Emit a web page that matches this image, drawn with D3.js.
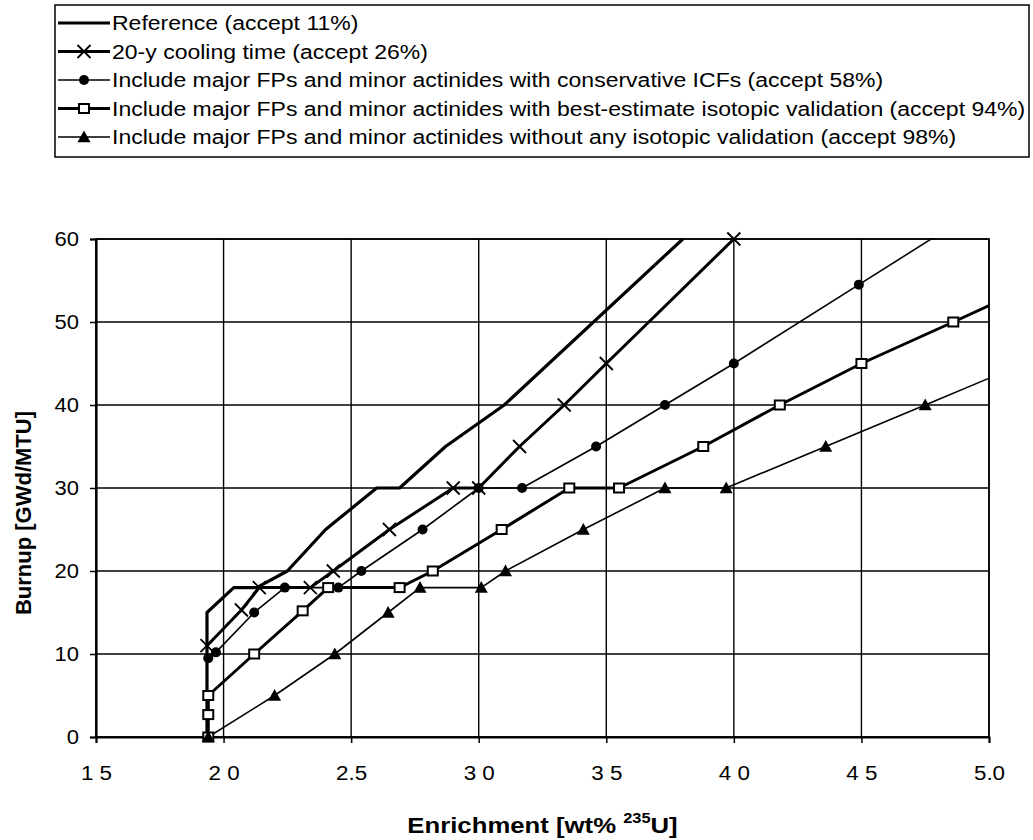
<!DOCTYPE html>
<html><head><meta charset="utf-8">
<script src="https://cdn.jsdelivr.net/npm/d3@7"></script>
<style>
body{margin:0;background:#fff}
svg{display:block}
text{font-family:"Liberation Sans",Arial,Helvetica,sans-serif;fill:#000}
</style>
</head><body>
<svg id="chart" width="1033" height="840"></svg>
<script>
// ---- data ----
const xTicks = [1.5, 2.0, 2.5, 3.0, 3.5, 4.0, 4.5, 5.0];
const xTickLabels = ["1 5", "2 0", "2.5", "3 0", "3 5", "4 0", "4 5", "5.0"];
const yTicks = [0, 10, 20, 30, 40, 50, 60];

const seriesNames = [
  "Reference (accept 11%)",
  "20-y cooling time (accept 26%)",
  "Include major FPs and minor actinides with conservative ICFs (accept 58%)",
  "Include major FPs and minor actinides with best-estimate isotopic validation (accept 94%)",
  "Include major FPs and minor actinides without any isotopic validation (accept 98%)"
];

const referenceX = [1.935, 1.935, 2.04, 2.13, 2.25, 2.40, 2.60, 2.69, 2.87, 3.10, 3.80];
const referenceY = [0, 15, 18, 18, 20, 25, 30, 30, 35, 40, 60];

const coolingX = [1.935, 2.07, 2.14, 2.34, 2.43, 2.65, 2.90, 3.00, 3.16, 3.335, 3.50, 4.00];
const coolingY = [11, 15.3, 18, 18, 20, 25, 30, 30, 35, 40, 45, 60];

const icfX = [1.94, 1.97, 2.12, 2.24, 2.45, 2.54, 2.78, 3.00, 3.17, 3.46, 3.73, 4.00, 4.49, 5.00];
const icfY = [9.5, 10.2, 15, 18, 18, 20, 25, 30, 30, 35, 40, 45, 54.5, 64.4];

const bestX = [1.94, 1.94, 1.94, 2.12, 2.31, 2.41, 2.69, 2.82, 3.09, 3.355, 3.55, 3.88, 4.18, 4.50, 4.86, 5.20];
const bestY = [0, 2.7, 5, 10, 15.2, 18, 18, 20, 25, 30, 30, 35, 40, 45, 50, 54.8];

const noValX = [1.94, 2.20, 2.436, 2.645, 2.77, 3.01, 3.105, 3.41, 3.73, 3.97, 4.36, 4.75, 5.20];
const noValY = [0, 5, 10, 15, 18, 18, 20, 25, 30, 30, 35, 40, 45.8];

const seriesX = [referenceX, coolingX, icfX, bestX, noValX];
const seriesY = [referenceY, coolingY, icfY, bestY, noValY];
const seriesMarker = ["none", "x", "circle", "square", "triangle"];
const seriesWidth = [3.2, 3, 1.6, 3, 1.6];

// ---- layout ----
const svg = d3.select("#chart");
const L = 96, R = 989, T = 239, B = 737;
const x = d3.scaleLinear().domain([1.5, 5.0]).range([L, R]);
const y = d3.scaleLinear().domain([0, 60]).range([B, T]);

function stretch(sel, f) {
  sel.each(function () {
    const w = this.getComputedTextLength();
    d3.select(this).attr("textLength", w * f).attr("lengthAdjust", "spacingAndGlyphs");
  });
}

svg.append("rect").attr("width", 1033).attr("height", 840).attr("fill", "#fff");

svg.append("clipPath").attr("id", "clip")
  .append("rect").attr("x", L).attr("y", T - 1).attr("width", R - L).attr("height", B - T + 1);

// grid
const grid = svg.append("g");
grid.selectAll("line.v").data(xTicks).join("line")
  .attr("x1", d => x(d)).attr("x2", d => x(d)).attr("y1", T).attr("y2", B)
  .attr("stroke", "#000").attr("stroke-width", 1.4);
grid.selectAll("line.h").data(yTicks).join("line")
  .attr("y1", d => y(d)).attr("y2", d => y(d)).attr("x1", L).attr("x2", R)
  .attr("stroke", "#000").attr("stroke-width", 1.4);

// axes
const xAxis = d3.axisBottom(x).tickValues(xTicks).tickSize(6).tickFormat((d, i) => xTickLabels[i]);
const gx = svg.append("g").attr("transform", `translate(0,${B})`).call(xAxis);
gx.select(".domain").attr("stroke-width", 2);
gx.selectAll(".tick line").attr("stroke-width", 1.5);
gx.selectAll(".tick text").attr("font-size", 20).attr("dy", 0).attr("y", 43)
  .attr("font-family", "Liberation Sans, Arial, sans-serif").call(stretch, 1.12);

const yAxis = d3.axisLeft(y).tickValues(yTicks).tickSize(6);
const gy = svg.append("g").attr("transform", `translate(${L},0)`).call(yAxis);
gy.select(".domain").attr("stroke-width", 2.2);
gy.selectAll(".tick line").attr("stroke-width", 1.5);
gy.selectAll(".tick text").attr("font-size", 20).attr("x", -17)
  .attr("font-family", "Liberation Sans, Arial, sans-serif").call(stretch, 1.1);

// frame
svg.append("rect").attr("x", L).attr("y", T).attr("width", R - L).attr("height", B - T)
  .attr("fill", "none").attr("stroke", "#000").attr("stroke-width", 1.6);

// titles
svg.append("g").attr("transform", `translate(${(L + R) / 2},833) scale(1.17,1)`)
  .append("text").attr("x", 0).attr("y", 0).attr("text-anchor", "middle")
  .attr("font-size", 22).attr("font-weight", "bold")
  .call(t => {
    t.append("tspan").text("Enrichment [wt% ");
    t.append("tspan").attr("font-size", 14).attr("dy", -10).text("235");
    t.append("tspan").attr("dy", 10).text("U]");
  });
svg.append("text").attr("transform", `translate(31,${(T + B) / 2 + 25}) rotate(-90)`)
  .attr("text-anchor", "middle").attr("font-size", 22).attr("font-weight", "bold")
  .text("Burnup [GWd/MTU]");

// markers
function drawMarker(g, type, cx, cy) {
  if (type === "x") {
    const s = 6.5;
    g.append("path").attr("d", `M${cx - s},${cy - s}L${cx + s},${cy + s}M${cx - s},${cy + s}L${cx + s},${cy - s}`)
      .attr("stroke", "#000").attr("stroke-width", 1.8).attr("fill", "none");
  } else if (type === "circle") {
    g.append("circle").attr("cx", cx).attr("cy", cy).attr("r", 5).attr("fill", "#000");
  } else if (type === "square") {
    g.append("rect").attr("x", cx - 5).attr("y", cy - 4.5).attr("width", 10).attr("height", 9)
      .attr("fill", "#fff").attr("stroke", "#000").attr("stroke-width", 2);
  } else if (type === "triangle") {
    const s = 6.5;
    g.append("path").attr("d", `M${cx},${cy - s}L${cx + s},${cy + s * 0.8}L${cx - s},${cy + s * 0.8}Z`)
      .attr("fill", "#000");
  }
}

// series lines
const line = d3.line().x(d => x(d[0])).y(d => y(d[1]));
const plot = svg.append("g").attr("clip-path", "url(#clip)");
seriesX.forEach((xs, i) => {
  const pts = xs.map((v, j) => [v, seriesY[i][j]]);
  plot.append("path").attr("d", line(pts)).attr("fill", "none")
    .attr("stroke", "#000").attr("stroke-width", seriesWidth[i]).attr("stroke-linejoin", "round");
});
seriesX.forEach((xs, i) => {
  if (seriesMarker[i] === "none") return;
  const g = svg.append("g");
  xs.forEach((v, j) => {
    if (v <= 5.0 && seriesY[i][j] <= 60) drawMarker(g, seriesMarker[i], x(v), y(seriesY[i][j]));
  });
});

// legend
const leg = svg.append("g");
const legTop = 5, legPitch = 28.5;
leg.append("rect").attr("x", 55).attr("y", legTop).attr("width", 974).attr("height", 152)
  .attr("fill", "#fff").attr("stroke", "#000").attr("stroke-width", 1.5);
seriesNames.forEach((name, i) => {
  const cy = legTop + 18 + i * legPitch;
  leg.append("line").attr("x1", 58).attr("x2", 110).attr("y1", cy).attr("y2", cy)
    .attr("stroke", "#000").attr("stroke-width", seriesWidth[i]);
  drawMarker(leg, seriesMarker[i], 84, cy);
  leg.append("text").attr("x", 112).attr("y", cy + 7).attr("font-size", 19.5).text(name)
    .call(stretch, 1.18);
});
</script>
</body></html>
